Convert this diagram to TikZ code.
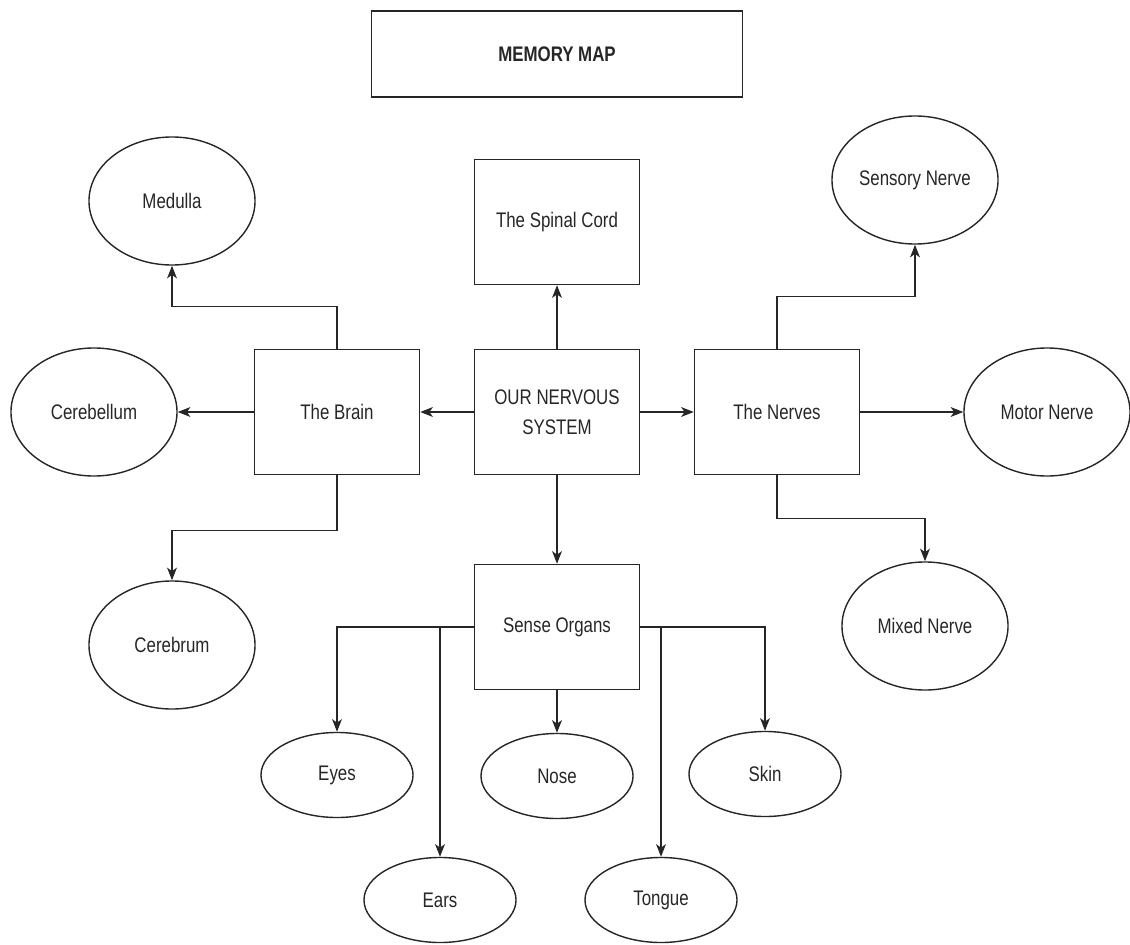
\documentclass[tikz,border=0pt]{standalone}
\usepackage{fontspec}
\setmainfont{Liberation Sans}[FakeStretch=0.8]
\usetikzlibrary{arrows.meta,shapes.geometric}
\definecolor{ink}{HTML}{262626}

\begin{document}
\begin{tikzpicture}[x=0.025cm,y=-0.025cm,
  >={Stealth[length=9pt,width=7pt,inset=2.5pt]},
  every node/.style={font=\fontsize{15}{21}\selectfont,text=ink},
  box/.style={draw=ink,line width=1pt,minimum width=4.125cm,minimum height=3.125cm,inner sep=0pt,align=center},
  bigoval/.style={ellipse,draw=ink,line width=1pt,minimum width=4.15cm,minimum height=3.2cm,inner sep=0pt},
  smalloval/.style={ellipse,draw=ink,line width=1pt,minimum width=3.8cm,minimum height=2.125cm,inner sep=0pt},
  link/.style={->,draw=ink,line width=1pt}]

\useasboundingbox (0,0) rectangle (1130,945);

% Title
\node[draw=ink,line width=1pt,minimum width=9.275cm,minimum height=2.15cm,
  font=\bfseries\fontsize{15}{21}\selectfont] (title) at (557,54) {MEMORY MAP};

% Boxes
\node[box] (core) at (557,412) {OUR NERVOUS\\SYSTEM};
\node[box] (spinal) at (557,222) {The Spinal Cord};
\node[box] (brain) at (337,412) {The Brain};
\node[box] (nerves) at (777,412) {The Nerves};
\node[box] (sense) at (557,627) {Sense Organs};

% Brain parts
\node[bigoval] (medulla) at (172,201) {Medulla};
\node[bigoval] (cerebellum) at (94,412) {Cerebellum};
\node[bigoval] (cerebrum) at (172,645) {Cerebrum};

% Nerves
\node[bigoval] (sensory) at (915,180) {Sensory Nerve};
\node[bigoval] (motor) at (1047,412) {Motor Nerve};
\node[bigoval] (mixed) at (925,626) {Mixed Nerve};

% Sense organs
\node[smalloval] (eyes) at (337,775) {Eyes};
\node[smalloval] (nose) at (557,776) {Nose};
\node[smalloval] (skin) at (765,774) {Skin};
\node[smalloval] (ears) at (440,900) {Ears};
\node[smalloval] (tongue) at (661,900) {Tongue};

% Arrows from the centre
\draw[link] (core) -- (spinal);
\draw[link] (core) -- (brain);
\draw[link] (core) -- (nerves);
\draw[link] (core) -- (sense);

% Arrows from the brain
\draw[link] (brain.north) -- ++(0,-42) -| (medulla);
\draw[link] (brain) -- (cerebellum);
\draw[link] (brain.south) -- ++(0,55) -| (cerebrum);

% Arrows from the nerves
\draw[link] (nerves.north) -- ++(0,-52) -| (sensory);
\draw[link] (nerves) -- (motor);
\draw[link] (nerves.south) -- ++(0,43) -| (mixed);

% Arrows from the sense organs
\draw[link] (sense.west) -| (eyes);
\draw[link] (sense.west -| ears.north) -- (ears.north);
\draw[link] (sense) -- (nose);
\draw[link] (sense.east -| tongue.north) -- (tongue.north);
\draw[link] (sense.east) -| (skin);

\end{tikzpicture}
\end{document}
